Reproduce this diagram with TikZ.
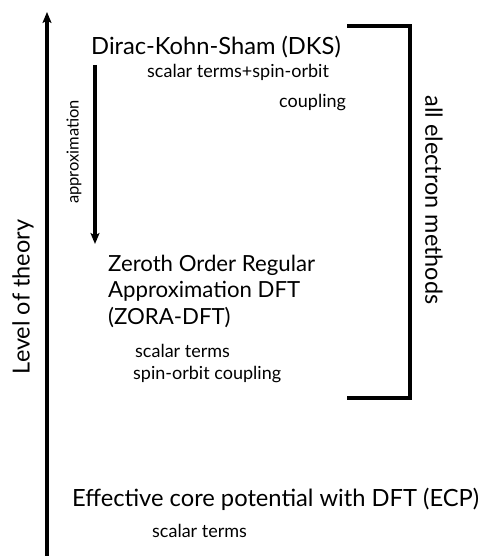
\documentclass[tikz,border=0pt]{standalone}
\usepackage{fontspec}
\setmainfont{Lato}
\usetikzlibrary{arrows.meta}
\begin{document}
\begin{tikzpicture}[x=1pt,y=1pt,
  title/.style={anchor=base west,inner sep=0pt,font=\fontsize{23.7}{27}\selectfont},
  zoratitle/.style={title,font=\fontsize{22.2}{27}\selectfont},
  note/.style={anchor=base west,inner sep=0pt,font=\fontsize{18}{21}\selectfont},
  side/.style={inner sep=0pt,font=\fontsize{23.5}{27}\selectfont},
  thick line/.style={line width=3.5pt},
  arr/.style={thick line,-{Stealth[length=11pt,width=9pt,inset=2.5pt]}}]
\useasboundingbox (0,0) rectangle (483,556);
% method names and their terms
\node[title] (dks) at (91,501) {Dirac-Kohn-Sham (DKS)};
\node[note] (dks1) at (147,478) {scalar terms+spin-orbit};
\node[note] (dks2) at (279,448) {coupling};
\node[zoratitle] (zoraA) at (108,284) {Zeroth Order Regular};
\node[zoratitle] (zoraB) at (108,258) {Approximation DFT};
\node[zoratitle] (zoraC) at (108,231) {(ZORA-DFT)};
\node[note] (zora1) at (135,198) {scalar terms};
\node[note] (zora2) at (133,176) {spin-orbit coupling};
\node[title] (ecp) at (72,49) {Effective core potential with DFT (ECP)};
\node[note] (ecp1) at (152,18) {scalar terms};
% level of theory axis
\coordinate (axbot) at (47,0);
\coordinate (axtop) at (47,544);
\draw[arr] (axbot) -- (axtop);
\node[side,rotate=90] (lvl) at (23,259) {Level of theory};
% approximation arrow
\coordinate (apptop) at (95,491);
\coordinate (appbot) at (95,312);
\draw[arr] (apptop) -- (appbot);
\node[inner sep=0pt,rotate=90,font=\fontsize{16.5}{19}\selectfont] (applbl) at (74,404) {approximation};
% all-electron bracket
\coordinate (b1) at (347,530);
\coordinate (b2) at (410,530);
\coordinate (b3) at (410,158);
\coordinate (b4) at (347,158);
\draw[thick line] (b1) -- (b2) -- (b3) -- (b4);
\node[side,rotate=-90] (ae) at (434,356) {all electron methods};
\end{tikzpicture}
\end{document}
